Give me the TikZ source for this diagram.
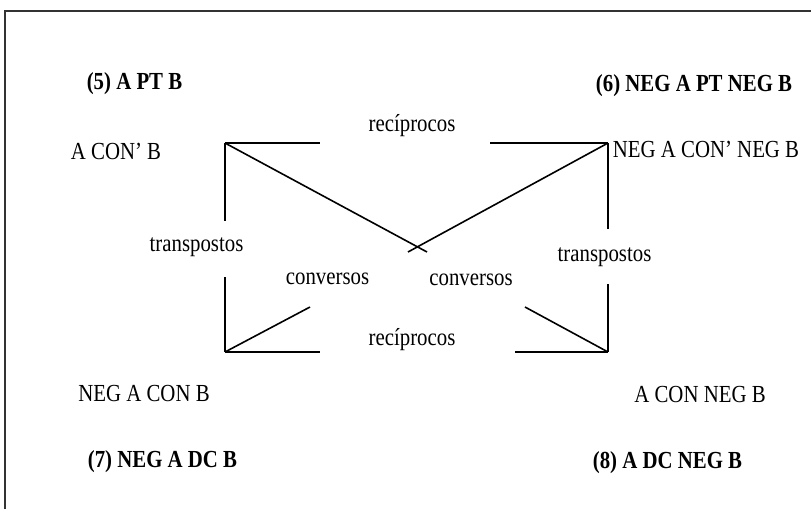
\documentclass[tikz,border=0pt]{standalone}
\usepackage{fontspec}
\setmainfont{Liberation Serif}
\usepackage{graphicx}
\newcommand{\narrow}[1]{\scalebox{0.85}[1]{#1}}

\begin{document}
\begin{tikzpicture}[x=1pt,y=-1pt,line width=1.6pt,
  lbl/.style={inner sep=0pt,font=\fontsize{24.5}{28}\selectfont},
  title/.style={lbl,font=\fontsize{24.5}{28}\selectfont\bfseries}]
\useasboundingbox (0,0) rectangle (811,509);
% frame
\draw[black!80,line width=2pt] (5,509) -- (5,11) -- (811,11);
% corners of the square
\coordinate (tl) at (225,143);
\coordinate (tr) at (608,143);
\coordinate (bl) at (225,352);
\coordinate (br) at (608,352);
% titles
\node[title] (p5) at (134.5,84) {\narrow{(5) A PT B}};
\node[title] (p6) at (694,86) {\narrow{(6) NEG A PT NEG B}};
\node[title] (p7) at (162.5,462) {\narrow{(7) NEG A DC B}};
\node[title] (p8) at (667.5,463) {\narrow{(8) A DC NEG B}};
% propositions
\node[lbl] (acb) at (116,151) {\narrow{A CON’ B}};
\node[lbl] (nacnb) at (706,149) {\narrow{NEG A CON’ NEG B}};
\node[lbl] (nacb) at (144,394) {\narrow{NEG A CON B}};
\node[lbl] (acnb) at (700,395) {\narrow{A CON NEG B}};
% relations
\node[lbl] (rectop) at (412,126) {\narrow{recíprocos}};
\node[lbl] (recbot) at (412,340) {\narrow{recíprocos}};
\node[lbl] (trl) at (196.5,247) {\narrow{transpostos}};
\node[lbl] (trr) at (604.5,257) {\narrow{transpostos}};
\node[lbl] (cvl) at (327.5,279) {\narrow{conversos}};
\node[lbl] (cvr) at (471,280) {\narrow{conversos}};
% gap ends
\coordinate (t1) at (320,143);
\coordinate (t2) at (490,143);
\coordinate (b1) at (320,352);
\coordinate (b2) at (515,352);
\coordinate (l1) at (225,221);
\coordinate (l2) at (225,277);
\coordinate (r1) at (608,229);
\coordinate (r2) at (608,284);
\coordinate (x1) at (427,252);
\coordinate (x2) at (408,252);
\coordinate (d1) at (310,307);
\coordinate (d2) at (525,307);
% sides
\draw (tl) -- (t1);
\draw (t2) -- (tr);
\draw (bl) -- (b1);
\draw (b2) -- (br);
\draw (tl) -- (l1);
\draw (l2) -- (bl);
\draw (tr) -- (r1);
\draw (r2) -- (br);
% diagonals
\draw (tl) -- (x1);
\draw (tr) -- (x2);
\draw (bl) -- (d1);
\draw (br) -- (d2);
\end{tikzpicture}
\end{document}
